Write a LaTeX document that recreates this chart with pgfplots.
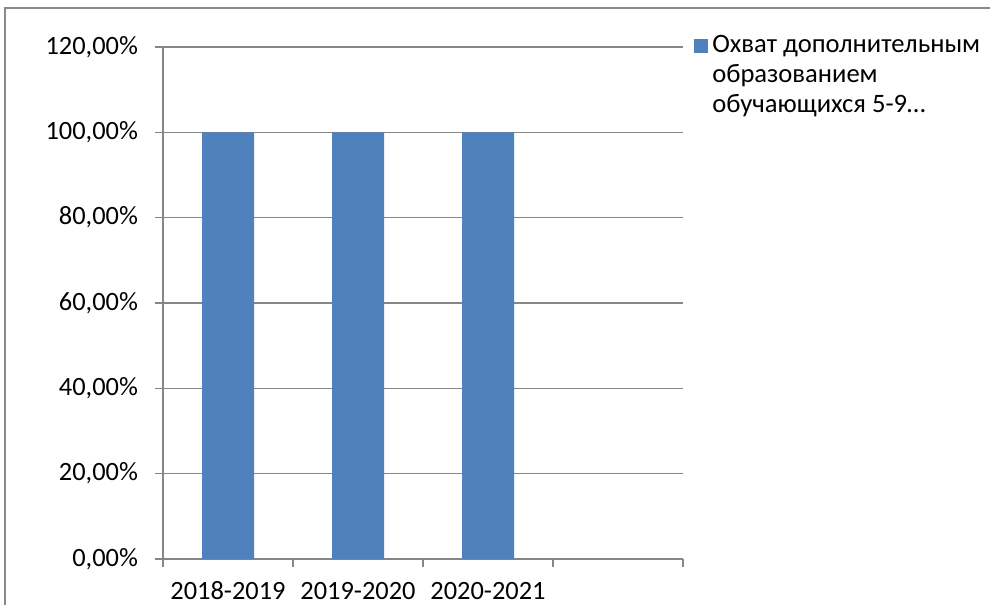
\documentclass[border=0pt]{standalone}
\usepackage{pgfplots}
\pgfplotsset{compat=1.18}
\usepackage{fontspec}
\setmainfont{Carlito}
\definecolor{barblue}{HTML}{4F81BD}
\definecolor{axgray}{HTML}{868686}
\definecolor{framegray}{HTML}{898989}
\begin{document}
\fontsize{13}{15}\selectfont
\begin{tikzpicture}
\useasboundingbox (0,0) rectangle (495pt,302.5pt);
\draw[framegray, line width=1pt] (2.5pt,0) -- (2.5pt,298.5pt) -- (495pt,298.5pt);
\begin{axis}[
  at={(114pt,23pt)}, anchor=origin,
  scale only axis, width=260pt, height=256pt,
  xmin=-0.5, xmax=3.5, ymin=0, ymax=120,
  axis x line*=bottom, axis y line*=left,
  axis line style={axgray, line width=0.6pt},
  xtick={0,1,2}, xticklabels={2018-2019,2019-2020,2020-2021},
  major x tick style={draw=none},
  minor xtick={-0.5,0.5,1.5,2.5,3.5},
  minor x tick style={axgray, line width=0.6pt},
  minor tick length=4pt,
  ytick={0,20,40,60,80,100,120},
  major y tick style={axgray, line width=0.6pt},
  major tick length=4pt,
  tick align=outside,
  ymajorgrids, grid style={axgray, line width=0.6pt},
  /pgf/number format/assume math mode=true,
  yticklabel={\pgfmathprintnumber[fixed,fixed zerofill,precision=2,use comma]{\tick}\%},
  yticklabel style={font=\fontsize{13.2}{15}\selectfont, xshift=-4pt},
  xticklabel style={font=\fontsize{13.2}{15}\selectfont, anchor=base, inner sep=0pt, yshift=-16pt},
  ybar, bar width=0.4,
  legend style={at={(1.021,1.031)}, anchor=north west, draw=none, fill=none,
    font=\fontsize{13.3}{15}\selectfont, cells={align=left}, inner sep=0pt},
  legend image code/.code={\fill[barblue] (0pt,11.5pt) rectangle (7pt,18.5pt);},
]
\addplot[fill=barblue, draw=none] coordinates {(0,100) (1,100) (2,100)};
\addlegendentry{Охват дополнительным\\образованием\\обучающихся 5-9…}
\end{axis}
\end{tikzpicture}
\end{document}
